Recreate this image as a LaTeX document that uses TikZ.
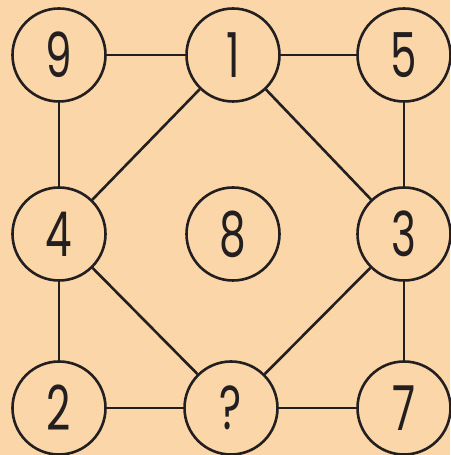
\documentclass[tikz,border=0pt]{standalone}
\usepackage{fontspec}
\setmainfont{Poppins}
\definecolor{bg}{RGB}{250,214,168}
\definecolor{ink}{RGB}{35,31,32}
\newcommand{\dg}[1]{\scalebox{0.68}[1]{\fontsize{62}{62}\selectfont #1}}
\begin{document}
\begin{tikzpicture}[x=1pt,y=1pt,
  num/.style={circle,draw=ink,line width=2.6pt,minimum size=93pt,inner sep=0pt,text=ink},
  link/.style={draw=ink,line width=2.6pt}]
\fill[bg] (0,0) rectangle (450,455);
\useasboundingbox (0,0) rectangle (450,455);
\node[num] (n9) at (59,400) {\dg{9}};
\node[num] (n1) at (233,400) {\dg{1}};
\node[num] (n5) at (404,400) {\dg{5}};
\node[num] (n4) at (59,221) {\dg{4}};
\node[num] (n8) at (233,221) {\dg{8}};
\node[num] (n3) at (404,221) {\dg{3}};
\node[num] (n2) at (59,47) {\dg{2}};
\node[num] (nq) at (231,47) {\dg{?}};
\node[num] (n7) at (404,47) {\dg{7}};
\path[link] (n9) -- (n1);
\path[link] (n1) -- (n5);
\path[link] (n9) -- (n4);
\path[link] (n5) -- (n3);
\path[link] (n1) -- (n4);
\path[link] (n1) -- (n3);
\path[link] (n4) -- (n2);
\path[link] (n4) -- (nq);
\path[link] (n3) -- (nq);
\path[link] (n3) -- (n7);
\path[link] (n2) -- (nq);
\path[link] (nq) -- (n7);
\end{tikzpicture}
\end{document}
